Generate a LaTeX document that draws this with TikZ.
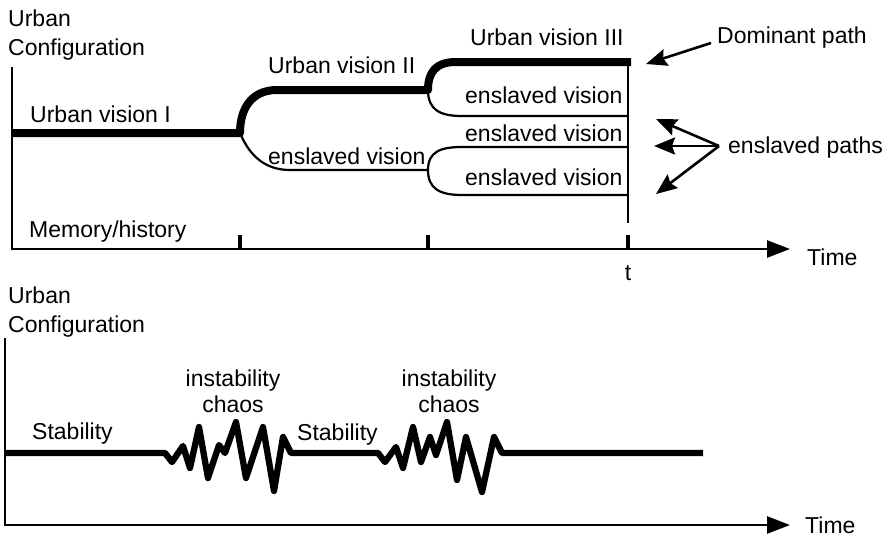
\documentclass[tikz,border=0pt]{standalone}
\usepackage{fontspec}
\setmainfont{Liberation Sans}
\usetikzlibrary{arrows.meta}

\begin{document}
\begin{tikzpicture}[x=1pt,y=-1pt,
  lbl/.style={inner sep=0pt, anchor=base west, font=\fontsize{23}{28}\selectfont},
  clbl/.style={lbl, anchor=base},
  axisline/.style={line width=2.6pt, line join=miter,
    -{Triangle[length=23pt,width=17pt]}},
  tickmark/.style={line width=3.5pt},
  domline/.style={line width=8pt, line join=round},
  slaveline/.style={line width=2.2pt},
  endline/.style={line width=2.6pt},
  pointer/.style={line width=2.6pt, -{Stealth[length=21pt,width=17pt,inset=3pt]}},
  zigline/.style={line width=6.3pt, line join=round}
]
\useasboundingbox (0,0) rectangle (891,538);

% ---------- upper panel: branching urban visions ----------
\coordinate (o1) at (12,249);
\coordinate (y1) at (12,67);
\coordinate (x1) at (790,249);
\draw[axisline] (y1) -- (o1) -- (x1);

\foreach \x/\n in {240/a,428/b,628/c}{
  \coordinate (tk\n) at (\x,235);
  \draw[tickmark] (tk\n) -- (tk\n |- o1);
}

\node[lbl] (urb1) at (8,27) {Urban};
\node[lbl] (cfg1) at (8,55) {Configuration};
\node[lbl] (time1) at (807,265) {Time};
\node[clbl] (tlbl) at (628,280) {t};
\node[lbl] (mem) at (29,237) {Memory/history};

% fork points
\coordinate (f1) at (240,133);
\coordinate (f2) at (428,90);
\coordinate (f3) at (428,170);

% dominant path
\draw[domline] (o1 |- f1) -- (f1)
  .. controls (240,108) and (252,90) .. (277,90) -- (f2)
  .. controls (428,72) and (436,62) .. (456,62) -- (631,62);

% enslaved branches
\draw[slaveline] (f1) .. controls (248,152) and (262,170) .. (290,170) -- (f3);
\draw[slaveline] (f2) .. controls (428,110) and (440,116) .. (462,116) -- (628,116);
\draw[slaveline] (f3) .. controls (428,152) and (440,147) .. (462,147) -- (628,147);
\draw[slaveline] (f3) .. controls (428,189) and (440,195) .. (462,195) -- (628,195);

% present moment
\draw[endline] (628,58) -- (628,223);

\node[lbl] (v1) at (30,122) {Urban vision I};
\node[lbl] (v2) at (268,73) {Urban vision II};
\node[lbl] (v3) at (470,45) {Urban vision III};
\node[lbl] (es0) at (268,164) {enslaved vision};
\node[lbl] (es1) at (465,103) {enslaved vision};
\node[lbl] (es2) at (465,141) {enslaved vision};
\node[lbl] (es3) at (465,185) {enslaved vision};

\node[lbl] (dom) at (717,43) {Dominant path};
\node[lbl] (esp) at (728,153) {enslaved paths};

\coordinate (domtail) at (711,43);
\coordinate (domtip) at (646,64);
\draw[pointer] (domtail) -- (domtip);

\coordinate (fan) at (719,146);
\coordinate (esA) at (656,119);
\coordinate (esB) at (654,146);
\coordinate (esC) at (656,194);
\draw[pointer] (fan) -- (esA);
\draw[pointer] (fan) -- (esB);
\draw[pointer] (fan) -- (esC);

% ---------- lower panel: stability and chaos ----------
\coordinate (o2) at (5,525);
\coordinate (y2) at (5,338);
\coordinate (x2) at (790,525);
\draw[axisline] (y2) -- (o2) -- (x2);

\node[lbl] (urb2) at (8,303) {Urban};
\node[lbl] (cfg2) at (8,332) {Configuration};
\node[lbl] (time2) at (805,533) {Time};

\coordinate (s0) at (5,453);
\coordinate (s1) at (703,453);
\draw[zigline] (s0) -- (165,453)
  -- (172,462) -- (183,446) -- (190,468) -- (199,427) -- (208,478)
  -- (219,445) -- (225,453) -- (236,422) -- (246,478) -- (263,427)
  -- (274,491) -- (283,437) -- (291,453)
  -- (378,453)
  -- (385,462) -- (396,447) -- (403,468) -- (413,427) -- (421,462)
  -- (430,437) -- (436,455) -- (447,422) -- (457,480) -- (466,437)
  -- (482,492) -- (494,437) -- (502,453)
  -- (s1);

\node[lbl] (st1) at (32,439) {Stability};
\node[lbl] (st2) at (297,440) {Stability};
\node[clbl] (in1) at (233,386) {instability};
\node[clbl] (ch1) at (233,412) {chaos};
\node[clbl] (in2) at (449,386) {instability};
\node[clbl] (ch2) at (449,412) {chaos};
\end{tikzpicture}
\end{document}
